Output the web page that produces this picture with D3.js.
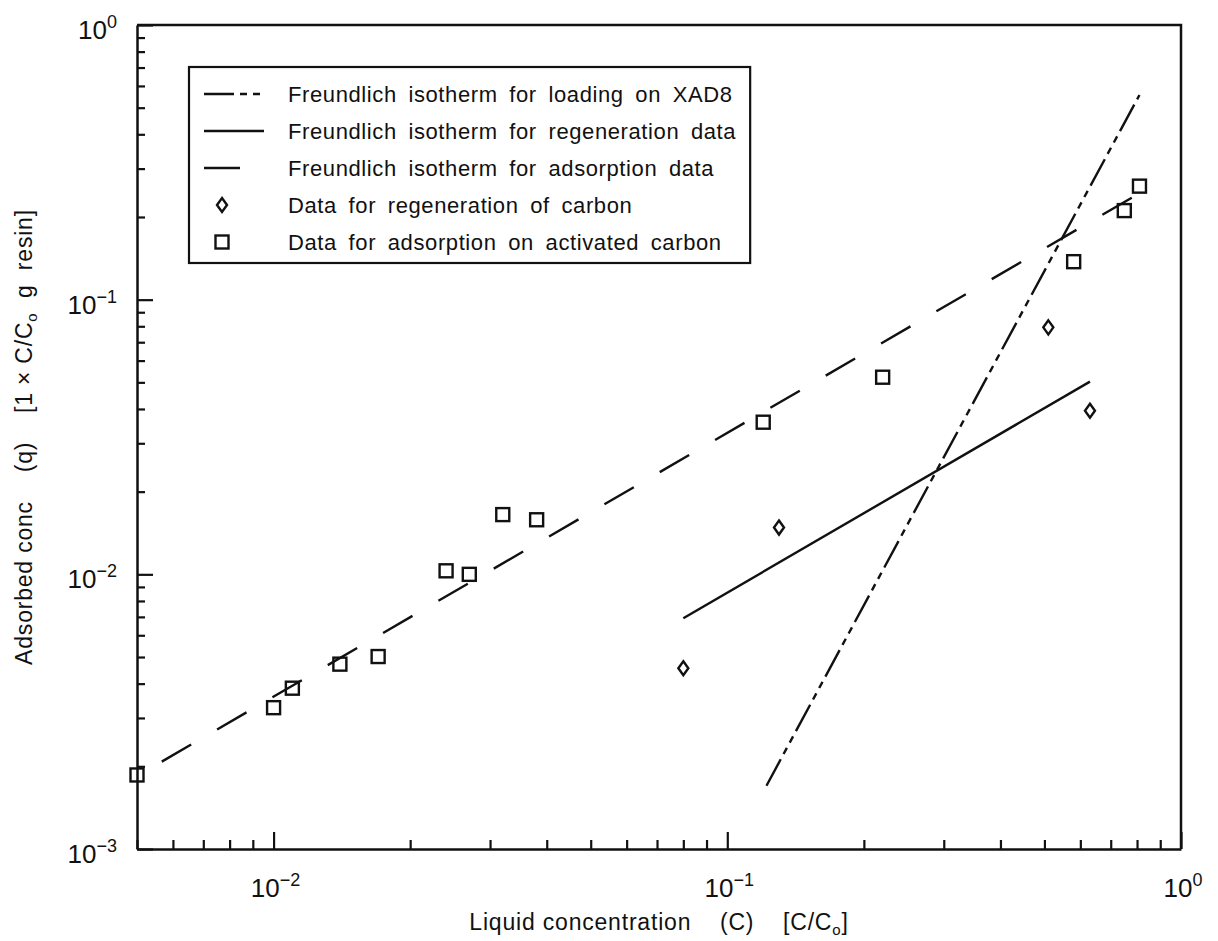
<!DOCTYPE html>
<html>
<head>
<meta charset="utf-8">
<script src="https://cdn.jsdelivr.net/npm/d3@7"></script>
<style>
  body { margin: 0; background: #fff; }
  svg { display: block; }
  text { font-family: "Liberation Sans", Arial, sans-serif; fill: #111; white-space: pre; }
</style>
</head>
<body>
<svg id="chart" width="1218" height="941"></svg>
<script>
// adsorption on activated carbon (squares)
const adsC = [0.005, 0.010, 0.011, 0.014, 0.017, 0.024, 0.027, 0.032, 0.038, 0.12, 0.22, 0.58, 0.75, 0.81];
const adsQ = [0.00186, 0.00327, 0.00385, 0.00471, 0.00502, 0.0103, 0.0100, 0.0165, 0.0158, 0.0358, 0.0522, 0.1375, 0.211, 0.259];

// regeneration of carbon (diamonds)
const regenC = [0.08, 0.13, 0.51, 0.63];
const regenQ = [0.00455, 0.0148, 0.0793, 0.0394];

// fitted isotherms, endpoints
const xad8Line = [[0.122, 0.0017], [0.287, 0.0233], [0.81, 0.556]];
const regenLine = [[0.08, 0.00692], [0.63, 0.0503]];
const adsLine = [[0.00567, 0.00208], [0.81, 0.244]];

const xDomain = [0.005, 1];
const yDomain = [0.001, 1];

const legendLabels = [
    "Freundlich isotherm for loading on XAD8",
    "Freundlich isotherm for regeneration data",
    "Freundlich isotherm for adsorption data",
    "Data for regeneration of carbon",
    "Data for adsorption on activated carbon"
];

const margin = {top: 25, right: 37, bottom: 92, left: 137};
const svg = d3.select("#chart");
const W = +svg.attr("width"), H = +svg.attr("height");
const width = W - margin.left - margin.right;
const height = H - margin.top - margin.bottom;

const g = svg.append("g").attr("transform", `translate(${margin.left},${margin.top})`);

const x = d3.scaleLog().domain(xDomain).range([0, width]);
const y = d3.scaleLog().domain(yDomain).range([height, 0]);

const isMajor = v => Math.abs(Math.log10(v) - Math.round(Math.log10(v))) < 1e-9;
const ink = "#111";

// bottom axis, ticks pointing inward
const xAxis = g.append("g")
    .attr("transform", `translate(0,${height})`)
    .call(d3.axisBottom(x).tickValues(x.ticks()).tickFormat("").tickSizeOuter(0));
xAxis.selectAll(".tick line")
    .attr("y2", d => isMajor(d) ? -17 : -9)
    .attr("stroke", ink).attr("stroke-width", 2.2);
xAxis.select(".domain").attr("stroke", ink).attr("stroke-width", 2.5);

const yAxis = g.append("g")
    .call(d3.axisLeft(y).tickValues(y.ticks()).tickFormat("").tickSizeOuter(0));
yAxis.selectAll(".tick line")
    .attr("x2", d => isMajor(d) ? 16 : 8)
    .attr("stroke", ink).attr("stroke-width", 2.2);
yAxis.select(".domain").attr("stroke", ink).attr("stroke-width", 2.5);

// frame top and right
g.append("path")
    .attr("d", `M0,0H${width}V${height}`)
    .attr("fill", "none").attr("stroke", ink).attr("stroke-width", 2.5);

// tick labels 10^n
function powerLabel(sel, v) {
    const e = Math.round(Math.log10(v));
    sel.append("tspan").text("10");
    sel.append("tspan").attr("dy", -11).attr("font-size", 18).text(e === 0 ? "0" : "\u2212" + (-e));
}
x.ticks().filter(isMajor).forEach(v => {
    g.append("text")
        .attr("x", x(v) + 2).attr("y", height + 48)
        .attr("text-anchor", "middle").attr("font-size", 26)
        .call(powerLabel, v);
});
y.ticks().filter(isMajor).forEach(v => {
    g.append("text")
        .attr("x", -20).attr("y", y(v) + 14)
        .attr("text-anchor", "end").attr("font-size", 26)
        .call(powerLabel, v);
});

// axis titles
const xt = svg.append("text")
    .attr("x", margin.left + width / 2).attr("y", 930)
    .attr("text-anchor", "middle").attr("font-size", 23)
    .attr("letter-spacing", 0.8);
xt.append("tspan").text("Liquid concentration    (C)    [C/C");
xt.append("tspan").attr("font-size", 15).attr("dy", 5).text("o");
xt.append("tspan").attr("dy", -5).text("]");

const yt = svg.append("text")
    .attr("transform", `translate(32,${margin.top + height / 2}) rotate(-90)`)
    .attr("text-anchor", "middle").attr("font-size", 23)
    .attr("letter-spacing", 0.8);
yt.append("tspan").text("Adsorbed conc    (q)    [1 \u00d7 C/C");
yt.append("tspan").attr("font-size", 15).attr("dy", 5).text("o");
yt.append("tspan").attr("dy", -5).text("  g  resin]");

// isotherm lines
const line = d3.line().x(d => x(d[0])).y(d => y(d[1]));
const dashes = ["30,6,7,6,7,6", null, "34,30"];
[xad8Line, regenLine, adsLine].forEach((pts, i) => {
    g.append("path")
        .attr("d", line(pts))
        .attr("fill", "none").attr("stroke", ink).attr("stroke-width", 2.4)
        .attr("stroke-dasharray", dashes[i]);
});

// markers
const sq = 13;
g.append("g").selectAll("rect")
    .data(adsC.map((c, i) => [c, adsQ[i]]))
    .join("rect")
    .attr("x", d => x(d[0]) - sq / 2).attr("y", d => y(d[1]) - sq / 2)
    .attr("width", sq).attr("height", sq)
    .attr("fill", "none").attr("stroke", ink).attr("stroke-width", 2.4);

const diamond = "M0,-7L5,0L0,7L-5,0Z";
g.append("g").selectAll("path")
    .data(regenC.map((c, i) => [c, regenQ[i]]))
    .join("path")
    .attr("transform", d => `translate(${x(d[0])},${y(d[1])})`)
    .attr("d", diamond)
    .attr("fill", "none").attr("stroke", ink).attr("stroke-width", 2.4);

// legend
const lg = svg.append("g");
const box = lg.append("rect")
    .attr("x", 189).attr("y", 67).attr("height", 196)
    .attr("fill", "#fff").attr("stroke", ink).attr("stroke-width", 2.2);
let textRight = 0;
legendLabels.forEach((lab, i) => {
    const ly = 94 + i * 37;
    if (i < 3) {
        lg.append("line")
            .attr("x1", 204).attr("x2", 264).attr("y1", ly).attr("y2", ly)
            .attr("stroke", ink).attr("stroke-width", 2.4)
            .attr("stroke-dasharray", i === 2 ? "36,40" : dashes[i]);
    } else if (i === 3) {
        lg.append("path").attr("transform", `translate(222,${ly})`).attr("d", diamond)
            .attr("fill", "none").attr("stroke", ink).attr("stroke-width", 2.4);
    } else {
        lg.append("rect").attr("x", 222 - sq / 2).attr("y", ly - sq / 2).attr("width", sq).attr("height", sq)
            .attr("fill", "none").attr("stroke", ink).attr("stroke-width", 2.4);
    }
    const t = lg.append("text")
        .attr("x", 288).attr("y", ly + 8)
        .attr("font-size", 22).attr("letter-spacing", 0.6).attr("word-spacing", 5)
        .text(lab);
    textRight = Math.max(textRight, 288 + t.node().getComputedTextLength());
});
box.attr("width", textRight + 14 - 189);
</script>
</body>
</html>
